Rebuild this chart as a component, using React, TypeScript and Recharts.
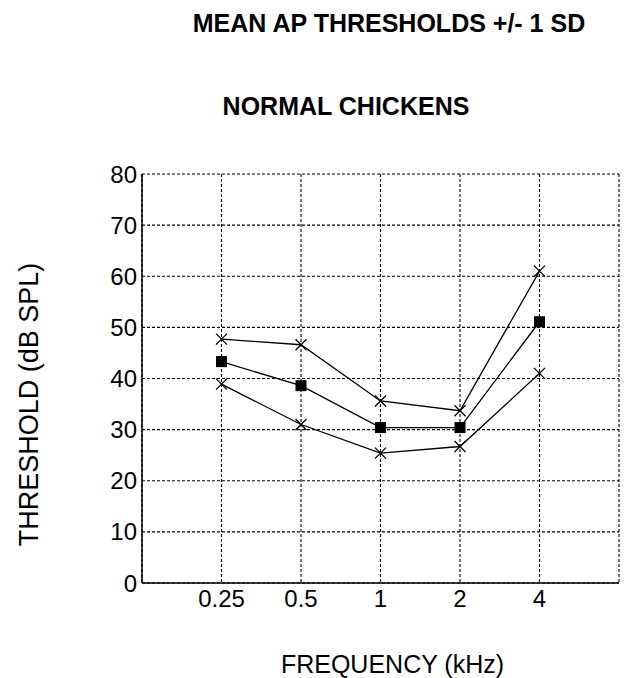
import { LineChart, Line, XAxis, YAxis, CartesianGrid, Label } from 'recharts';

const FONT = '"Liberation Sans", Arial, Helvetica, sans-serif';

// AP thresholds per test frequency (dB SPL)
const frequencies = ['0.25', '0.5', '1', '2', '4'];
const meanThreshold = [43.3, 38.6, 30.4, 30.4, 51.1];
const plusOneSd = [47.7, 46.6, 35.6, 33.7, 61.0];
const minusOneSd = [38.9, 31.0, 25.4, 26.7, 41.0];
const thresholdTicks = [0, 10, 20, 30, 40, 50, 60, 70, 80];

const data = frequencies.map((freq, i) => ({
  freq,
  mean: meanThreshold[i],
  upper: plusOneSd[i],
  lower: minusOneSd[i],
}));

const CrossDot = (props: any) => {
  const { cx, cy, index } = props;
  if (cx == null || cy == null) return null;
  const r = 5.5;
  return (
    <path
      key={`x-${index}`}
      d={`M${cx - r},${cy - r}L${cx + r},${cy + r}M${cx - r},${cy + r}L${cx + r},${cy - r}`}
      stroke="#000"
      strokeWidth={1.3}
      fill="none"
    />
  );
};

const SquareDot = (props: any) => {
  const { cx, cy, index } = props;
  if (cx == null || cy == null) return null;
  return <rect key={`s-${index}`} x={cx - 5.5} y={cy - 5.5} width={11} height={11} fill="#000" />;
};

const tickStyle = { fontSize: 24, fill: '#000', fontFamily: FONT };

const YTitle = (props: any) => {
  const vb = props.viewBox || { x: 0, y: 174, width: 142, height: 409 };
  const x = vb.x + 28;
  const y = vb.y + vb.height / 2 + 26;
  return (
    <text
      x={x}
      y={y}
      transform={`rotate(-90 ${x} ${y})`}
      textAnchor="middle"
      dy="0.36em"
      fontSize={27}
      fontFamily={FONT}
      fill="#000"
    >
      THRESHOLD (dB SPL)
    </text>
  );
};

const titleStyle = {
  position: 'absolute' as const,
  width: 600,
  textAlign: 'center' as const,
  fontFamily: FONT,
  fontWeight: 700,
  fontSize: 25,
  lineHeight: '25px',
  color: '#000',
  whiteSpace: 'nowrap' as const,
};

export default function App() {
  return (
    <div style={{ position: 'absolute', left: 0, top: 0, width: 624, height: 678, background: '#fff' }}>
      <div style={{ ...titleStyle, left: 389 - 300, top: 11 }}>MEAN AP THRESHOLDS +/- 1 SD</div>
      <div style={{ ...titleStyle, left: 346 - 300, top: 94 }}>NORMAL CHICKENS</div>
      <LineChart
        width={624}
        height={678}
        data={data}
        margin={{ top: 174, right: 5, bottom: 65, left: 0 }}
      >
        <CartesianGrid stroke="#000" strokeWidth={1.1} strokeDasharray="3 2" />
        <XAxis
          dataKey="freq"
          type="category"
          padding={{ left: 79.5, right: 79.5 }}
          height={30}
          tickLine={false}
          tickSize={5}
          tickMargin={2}
          axisLine={{ stroke: '#000', strokeWidth: 1.5 }}
          tick={tickStyle}
        >
          <Label
            value="FREQUENCY (kHz)"
            position="bottom"
            offset={42}
            dx={12}
            style={{ fontSize: 25, fontFamily: FONT, fill: '#000' }}
          />
        </XAxis>
        <XAxis
          xAxisId="top"
          dataKey="freq"
          orientation="top"
          height={0}
          tick={false}
          tickLine={false}
          axisLine={{ stroke: '#000', strokeWidth: 1.5 }}
        />
        <YAxis
          domain={[0, 80]}
          ticks={thresholdTicks}
          width={142}
          tickLine={false}
          tickSize={3}
          tickMargin={2}
          axisLine={{ stroke: '#000', strokeWidth: 1.5 }}
          tick={tickStyle}
        >
          <Label content={<YTitle />} />
        </YAxis>
        <YAxis
          yAxisId="right"
          orientation="right"
          domain={[0, 80]}
          width={0}
          tick={false}
          tickLine={false}
          axisLine={{ stroke: '#000', strokeWidth: 1.5 }}
        />
        <Line
          dataKey="upper"
          stroke="#000"
          strokeWidth={1.3}
          dot={<CrossDot />}
          isAnimationActive={false}
        />
        <Line
          dataKey="mean"
          stroke="#000"
          strokeWidth={1.3}
          dot={<SquareDot />}
          isAnimationActive={false}
        />
        <Line
          dataKey="lower"
          stroke="#000"
          strokeWidth={1.3}
          dot={<CrossDot />}
          isAnimationActive={false}
        />
      </LineChart>
    </div>
  );
}
